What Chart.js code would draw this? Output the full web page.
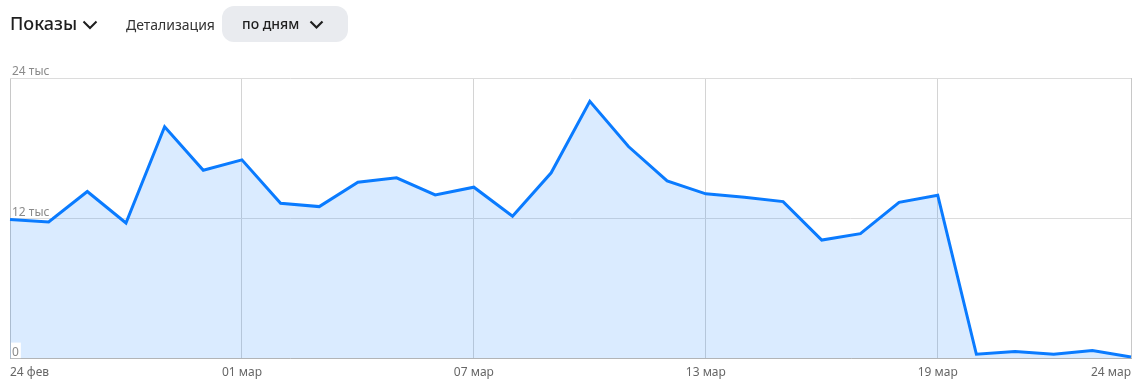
<!DOCTYPE html>
<html lang="ru">
<head>
<meta charset="utf-8">
<script src="https://cdn.jsdelivr.net/npm/chart.js@4"></script>
<style>
  html, body { margin: 0; padding: 0; background: #fff; }
  body { width: 1138px; height: 383px; position: relative; overflow: hidden; font-family: "Noto Sans", sans-serif; }
  #wrap { position: absolute; left: 0; top: 0; width: 1138px; height: 387px; }
  .title { position: absolute; left: 10px; top: 11px; font-size: 18px; font-weight: 500; color: #1f1f1f; }
  .title svg { position: absolute; left: 72px; top: 9px; }
  .lbl { position: absolute; left: 126px; top: 15px; font-size: 14px; color: #333; }
  .btn { position: absolute; left: 222px; top: 6px; width: 126px; height: 36px; border-radius: 12px; background: #e9ebef; }
  .btn span { position: absolute; left: 20px; top: 8px; font-size: 14px; font-weight: 500; color: #1f1f1f; }
  .btn svg { position: absolute; left: 87px; top: 14px; }
</style>
</head>
<body>
<div id="wrap"><canvas id="grafico"></canvas></div>
<div class="title">Показы
  <svg width="16" height="10" viewBox="0 0 16 10"><polyline points="1.5,1.5 8,8 14.5,1.5" fill="none" stroke="#1f1f1f" stroke-width="2"/></svg>
</div>
<div class="lbl">Детализация</div>
<div class="btn"><span>по дням</span>
  <svg width="15" height="10" viewBox="0 0 15 10"><polyline points="1.5,1.5 7.5,7.5 13.5,1.5" fill="none" stroke="#1f1f1f" stroke-width="2.2"/></svg>
</div>
<script>
// дни с 24 фев по 24 мар
const dias = ["24 фев", "25 фев", "26 фев", "27 фев", "28 фев", "29 фев",
    "01 мар", "02 мар", "03 мар", "04 мар", "05 мар", "06 мар", "07 мар", "08 мар",
    "09 мар", "10 мар", "11 мар", "12 мар", "13 мар", "14 мар", "15 мар", "16 мар",
    "17 мар", "18 мар", "19 мар", "20 мар", "21 мар", "22 мар", "23 мар", "24 мар"];
const pokazy = [11890, 11690, 14290, 11600, 19830, 16110, 17000, 13290, 13000, 15090,
    15460, 14000, 14660, 12170, 15890, 22000, 18140, 15200, 14090, 13800,
    13430, 10140, 10690, 13370, 13970, 370, 600, 370, 690, 140];
const etiquetasX = ["24 фев", "01 мар", "07 мар", "13 мар", "19 мар", "24 мар"];
const valoresY = [0, 12000, 24000];
const etiquetasY = ["0", "12 тыс", "24 тыс"];

const etiquetasEje = {
    id: 'etiquetasEje',
    afterDatasetsDraw(chart) {
        const ctx = chart.ctx;
        const y = chart.scales.y;
        const left = chart.chartArea.left;
        ctx.save();
        ctx.font = '12px "Noto Sans", sans-serif';
        ctx.textBaseline = 'bottom';
        ctx.textAlign = 'left';
        valoresY.forEach(function (v, i) {
            const py = y.getPixelForValue(v);
            const w = ctx.measureText(etiquetasY[i]).width;
            ctx.fillStyle = '#fff';
            ctx.fillRect(left + 1, py - 16, w + 3, 15.5);
            ctx.fillStyle = '#8a8a8a';
            ctx.fillText(etiquetasY[i], left + 2, py);
        });
        ctx.restore();
    }
};

const ctx = document.getElementById('grafico').getContext('2d');
new Chart(ctx, {
    type: 'line',
    data: {
        labels: dias,
        datasets: [{
            label: 'Показы',
            data: pokazy,
            borderColor: '#0a7bff',
            borderWidth: 3,
            backgroundColor: 'rgba(10, 123, 255, 0.15)',
            fill: 'origin',
            tension: 0,
            pointRadius: 0,
            borderJoinStyle: 'miter'
        }]
    },
    options: {
        responsive: true,
        maintainAspectRatio: false,
        animation: false,
        layout: { padding: { top: 78, left: 10, right: 6, bottom: 0 } },
        plugins: {
            legend: { display: false },
            tooltip: { enabled: false }
        },
        scales: {
            x: {
                offset: false,
                border: { display: true, color: '#b5b5b5' },
                grid: {
                    drawTicks: false,
                    color: function (c) {
                        if (c.index === 0 || c.index === dias.length - 1) return '#c8c8c8';
                        return etiquetasX.includes(dias[c.index]) ? '#d4d4d4' : 'rgba(0,0,0,0)';
                    }
                },
                ticks: {
                    autoSkip: false,
                    maxRotation: 0,
                    align: 'inner',
                    padding: 7,
                    color: '#666',
                    font: { family: '"Noto Sans", sans-serif', size: 12 },
                    callback: function (v, i) {
                        return etiquetasX.includes(dias[i]) ? dias[i] : '';
                    }
                }
            },
            y: {
                min: 0,
                max: 24000,
                border: { display: false },
                grid: { drawTicks: false, color: '#dcdcdc' },
                ticks: { display: false, stepSize: 12000 }
            }
        }
    },
    plugins: [etiquetasEje]
});
</script>
</body>
</html>
